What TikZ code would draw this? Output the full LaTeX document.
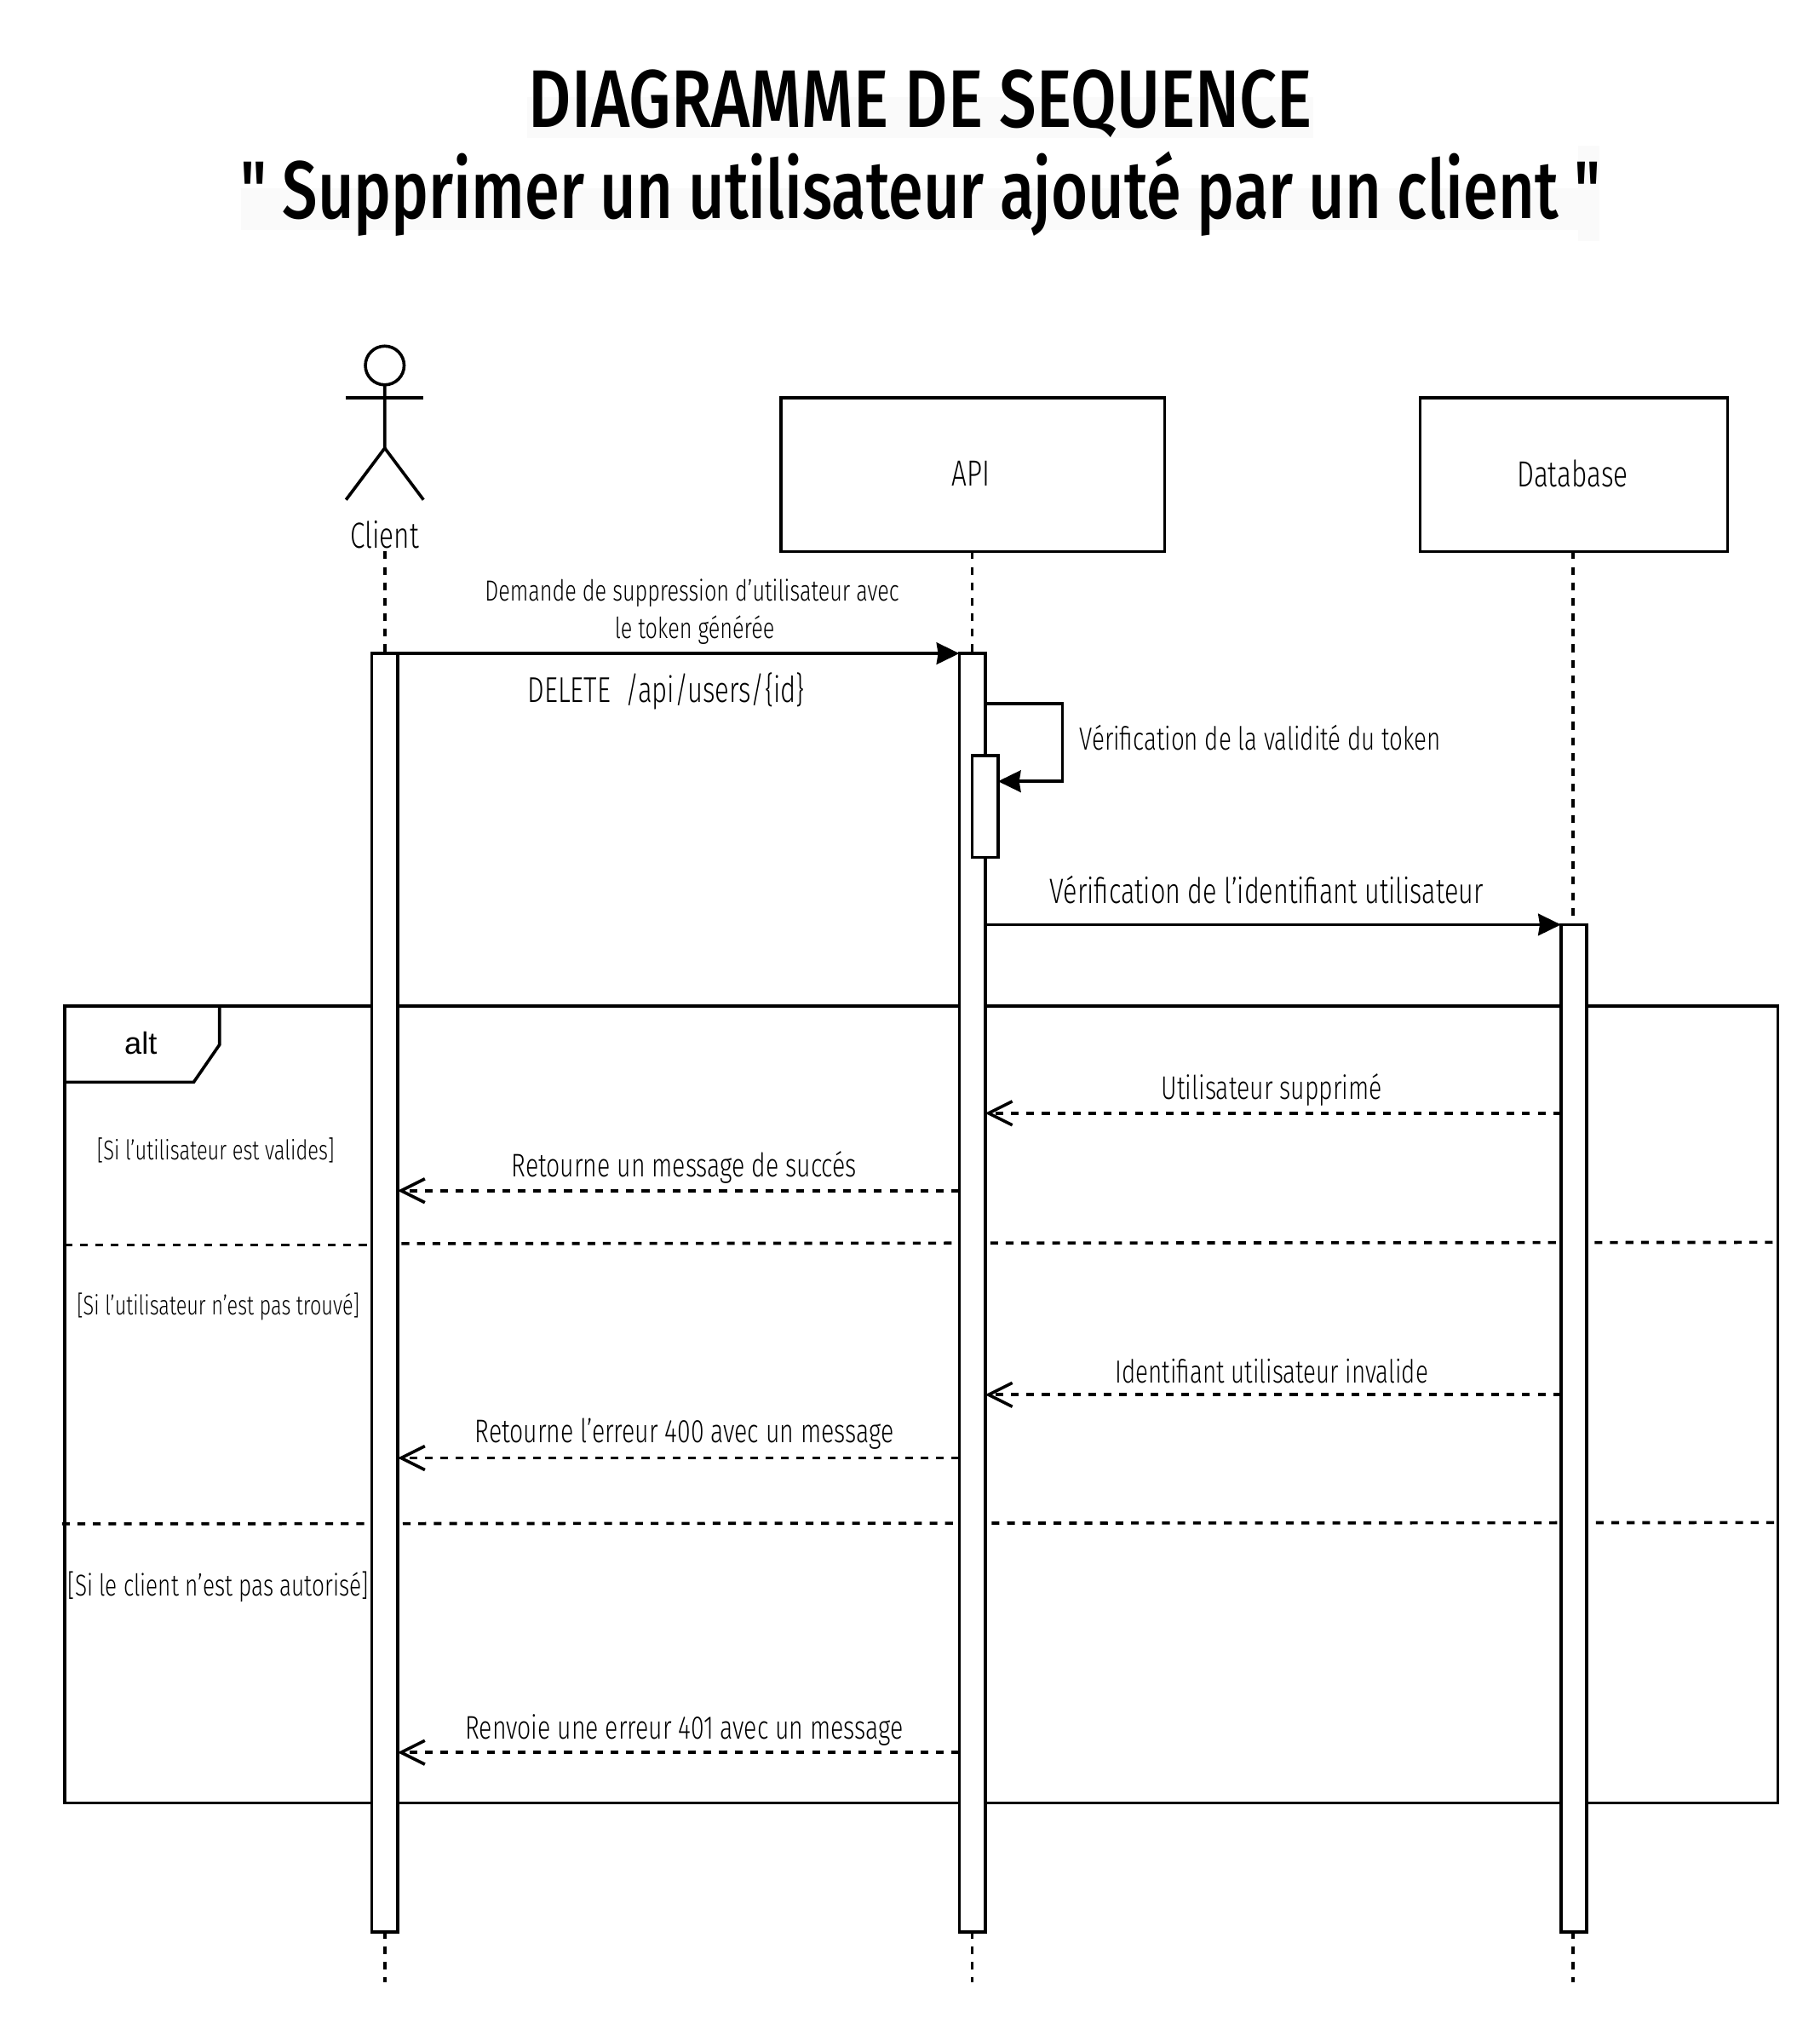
\documentclass[tikz,border=0pt]{standalone}
\usepackage{fontspec}
\setmainfont[FakeStretch=0.74]{Fira Sans Light}
\newfontfamily\titlefont[FakeStretch=0.81]{Fira Sans Medium}
\newfontfamily\subtitlefont[FakeStretch=0.77]{Fira Sans Medium}
\newfontfamily\altfont{Liberation Sans}
\usetikzlibrary{arrows.meta, fit, calc}
\tikzset{
  person/.style={
    font=\fontsize{20}{22}\selectfont, inner sep=0pt, outer sep=0pt, append after command={
      \pgfextra{
        \draw (\tikzlastnode.center) ++(0,-131) circle (15); % Kepala
        \draw (\tikzlastnode.center) ++(0,-116) -- ++(0,49) -- ++(-30,40); % Tubuh dan kaki kiri
        \draw (\tikzlastnode.center) ++(0,-67) -- ++(30,40); % kaki kanan
        \draw (\tikzlastnode.center) ++(-30,-106) -- ++(60,0); % Tangan
      }
    }
  },
  system/.style={rectangle, draw=black, fill=white, inner sep=0pt, outer sep=0pt},
  boxtext/.style={font=\fontsize{20}{22}\selectfont},
  bar/.style={rectangle, draw=black, fill=white, inner sep=0pt, outer sep=0pt},
  frame/.style={rectangle, draw=black, inner sep=0pt, outer sep=0pt},
  lifeline/.style={dash pattern=on 1.5mm off 1.5mm},
  separator/.style={dash pattern=on 1.5mm off 1.5mm},
  call/.style={-{Stealth[length=4.4mm,width=4.2mm,inset=.3mm]}},
  reply/.style={dash pattern=on 1.5mm off 1.5mm, -{Straight Barb[length=4.6mm,width=4.6mm]}},
  msg/.style={font=\fontsize{18}{22}\selectfont},
  heading/.style={font=\titlefont\fontsize{45}{50}\selectfont},
  subheading/.style={font=\subtitlefont\fontsize{45}{50}\selectfont}
}

\begin{document}
\begin{tikzpicture}[x=.25mm, y=-.25mm, line width=1.7pt]
    \useasboundingbox (0,0) rectangle (1409,1567.3);

    % surlignage du titre
    \fill [black!2] (408,75) rectangle (1017,107);
    \fill [black!2] (187,146) rectangle (1222,178);
    \fill [black!2] (1222,113) rectangle (1239,187);

    \node (title) [heading] at (713,80) {DIAGRAMME DE SEQUENCE};
    \node (subtitle) [subheading] at (713,150) {" Supprimer un utilisateur ajouté par un client "};

    % lignes de reference
    \coordinate (yCall) at (0,506);
    \coordinate (yLoopA) at (0,545);
    \coordinate (yLoopB) at (0,605);
    \coordinate (yCheck) at (0,716);
    \coordinate (yDeleted) at (0,862);
    \coordinate (ySuccess) at (0,922);
    \coordinate (yInvalid) at (0,1080);
    \coordinate (yError) at (0,1129);
    \coordinate (yDenied) at (0,1357);

    \node (client) [person] at (298,414) {Client};
    \node (api) [system, fit={(605,308) (902,427)}] {};
    \node (apiText) [boxtext] at (752,367) {API};
    \node (database) [system, fit={(1100,308) (1338,427)}] {};
    \node (databaseText) [boxtext] at (1218,367) {Database};

    \node (altFrame) [frame, fit={(50,779) (1377,1396)}] {};
    \draw (altFrame.north west) -- ++(120,0) -- ++(0,30) -- ++(-20,29) -- ++(-100,0);
    \node (altText) [font=\altfont\fontsize{17}{20}\selectfont] at (109,808) {alt};

    \draw [lifeline] (298,427) -- (298,1535);
    \draw [lifeline] (api.south -| 753,0) -- (753,1535);
    \draw [lifeline] (database.south -| 1218.5,0) -- (1218.5,1535);

    \draw [separator] (altFrame.west |- 0,964) -- (284,964);
    \draw [separator] (311,963) -- (altFrame.east |- 0,962);
    \draw [separator] (48,1180) -- (1375,1179);

    \node (barClient) [bar, fit={(288,506) (308,1496)}] {};
    \node (barApi) [bar, fit={(743,506) (763,1496)}] {};
    \node (barCheck) [bar, fit={(753,585) (773,664)}] {};
    \node (barDatabase) [bar, fit={(1209,716) (1229,1496)}] {};

    \draw [call] (barClient.east |- yCall) -- (barApi.west |- yCall);
    \draw [call] (barApi.east |- yLoopA) -- ++(60,0) |- (barCheck.east |- yLoopB);
    \draw [call] (barApi.east |- yCheck) -- (barDatabase.west |- yCheck);
    \draw [reply] (barDatabase.west |- yDeleted) -- (barApi.east |- yDeleted);
    \draw [reply] (barApi.west |- ySuccess) -- (barClient.east |- ySuccess);
    \draw [reply] (barDatabase.west |- yInvalid) -- (barApi.east |- yInvalid);
    \draw [reply] (barApi.west |- yError) -- (barClient.east |- yError);
    \draw [reply] (barApi.west |- yDenied) -- (barClient.east |- yDenied);

    \node (askLine) [font=\fontsize{16}{22}\selectfont] at (536,459) {Demande de suppression d'utilisateur avec};
    \node (tokenLine) [font=\fontsize{16}{22}\selectfont] at (538,488) {le token générée};
    \node (deleteText) [font=\fontsize{19.7}{22}\selectfont] at (516,535) {DELETE\ \ /api/users/\{id\}};
    \node (tokenCheck) [font=\fontsize{17.6}{22}\selectfont, anchor=west, inner sep=0pt] at (835,571) {Vérification de la validité du token};
    \node (idCheck) [font=\fontsize{19.4}{22}\selectfont] at (981,689) {Vérification de l'identifiant utilisateur};
    \node (deletedText) [msg] at (985,844) {Utilisateur supprimé};
    \node (successText) [msg] at (530,904) {Retourne un message de succés};
    \node (invalidText) [font=\fontsize{17.6}{22}\selectfont] at (985,1062) {Identifiant utilisateur invalide};
    \node (errorText) [msg] at (530,1110) {Retourne l'erreur 400 avec un message};
    \node (deniedText) [msg] at (530,1340) {Renvoie une erreur 401 avec un message};

    \node (caseValid) [font=\fontsize{15}{22}\selectfont] at (167,891) {[Si l'utilisateur est valides]};
    \node (caseMissing) [font=\fontsize{14.9}{22}\selectfont] at (169,1012) {[Si l'utilisateur n'est pas trouvé]};
    \node (caseDenied) [font=\fontsize{16.6}{22}\selectfont] at (169,1229) {[Si le client n'est pas autorisé]};

\end{tikzpicture}
\end{document}
